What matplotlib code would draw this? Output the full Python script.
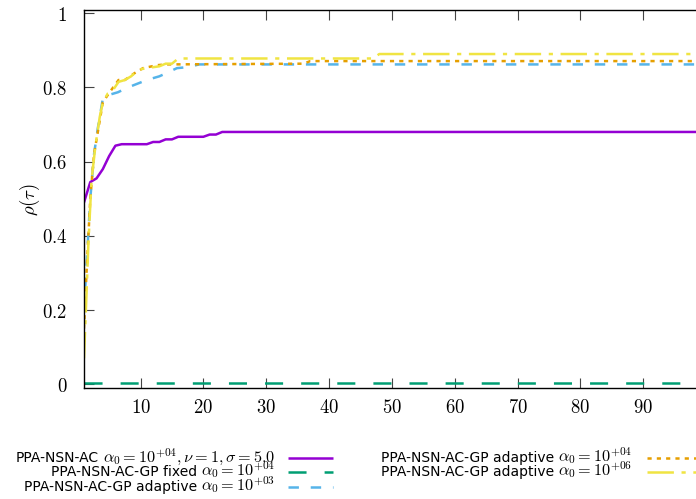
import matplotlib
matplotlib.use("Agg")
import matplotlib.pyplot as plt
from matplotlib.lines import Line2D

plt.rcParams['mathtext.fontset'] = 'cm'
plt.rcParams['font.family'] = 'DejaVu Sans'
plt.rcParams['lines.scale_dashes'] = False

# performance profile data (tau, rho)
tau_ac = [1, 2, 3, 4, 5, 6, 7, 11, 12, 13, 14, 15, 16, 20, 21, 22, 23, 100]
rho_ac = [0.49, 0.545, 0.555, 0.58, 0.615, 0.643, 0.647, 0.647, 0.653, 0.653,
          0.66, 0.66, 0.667, 0.667, 0.673, 0.673, 0.68, 0.68]

tau_fixed = [1, 100]
rho_fixed = [0.003, 0.003]

tau_a3 = [1, 1.4, 2, 2.6, 3.2, 4, 5, 6.4, 8, 11, 13, 14.3, 15.8, 17.7, 19.3, 100]
rho_a3 = [0.2, 0.32, 0.5, 0.62, 0.69, 0.77, 0.78, 0.787, 0.8, 0.82, 0.83,
          0.84, 0.852, 0.855, 0.862, 0.862]

tau_a4 = [1, 1.4, 2, 2.6, 3.5, 4, 5, 6.5, 7.5, 9, 10.4, 12.7, 14, 36, 37, 100]
rho_a4 = [0.15, 0.3, 0.5, 0.62, 0.71, 0.76, 0.785, 0.82, 0.82, 0.838, 0.852,
          0.86, 0.862, 0.864, 0.871, 0.871]

tau_a6 = [1, 1.3, 1.7, 2.2, 2.8, 3.5, 4, 4.8, 5.5, 6.5, 7.5, 8.5, 9.7, 11,
          13, 14, 15, 16, 47, 48, 100]
rho_a6 = [0.07, 0.2, 0.38, 0.55, 0.64, 0.72, 0.76, 0.784, 0.79, 0.815, 0.82,
          0.83, 0.848, 0.852, 0.857, 0.864, 0.864, 0.878, 0.878, 0.89, 0.89]

names = ['PPA-NSN-AC', 'PPA-NSN-AC-GP fixed', 'PPA-NSN-AC-GP adaptive',
         'PPA-NSN-AC-GP adaptive', 'PPA-NSN-AC-GP adaptive']
params = [r'$\alpha_0 = 10^{+04}, \nu = 1, \sigma = 5.0$',
          r'$\alpha_0 = 10^{+04}$',
          r'$\alpha_0 = 10^{+03}$',
          r'$\alpha_0 = 10^{+04}$',
          r'$\alpha_0 = 10^{+06}$']
colors = ['#9400d3', '#009e73', '#56b4e9', '#e69f00', '#f0e442']
dashes = [None, (13, 13), (7.5, 8.5), (3, 3.7), (19, 5.5, 3, 5.5)]

fig = plt.figure(figsize=(6.96, 4.99), dpi=100)
W, H = 696, 499
ax = fig.add_axes([84 / W, 1 - 388 / H, 622 / W, 378.5 / H])

series = [(tau_ac, rho_ac), (tau_fixed, rho_fixed), (tau_a3, rho_a3),
          (tau_a4, rho_a4), (tau_a6, rho_a6)]
lw = 1.8
for (x, y), c, d in zip(series, colors, dashes):
    ln, = ax.plot(x, y, color=c, lw=lw, solid_capstyle='butt',
                  dash_capstyle='butt')
    if d is not None:
        ln.set_dashes(d)

ax.set_xlim(1, 100)
ax.set_ylim(-0.01, 1.01)
ax.set_xticks(range(10, 100, 10))
ax.set_xticklabels(['$%d$' % v for v in range(10, 100, 10)])
ax.set_yticks([0, 0.2, 0.4, 0.6, 0.8, 1])
ax.set_yticklabels(['$0$', '$0.2$', '$0.4$', '$0.6$', '$0.8$', '$1$'])
ax.tick_params(direction='in', length=7.2, width=0.8, color='#444444',
               top=True, right=True, labelsize=13.5)
ax.tick_params(axis='x', pad=7)
ax.tick_params(axis='y', pad=12)
for s in ax.spines.values():
    s.set_linewidth(1.0)

fig.text(30 / W, 1 - 200 / H, r'$\rho(\tau)$', rotation=90, ha='center',
         va='center', fontsize=13.5)

# legend, gnuplot style: right-aligned text, sample to the right
rows = [(275, 288, 333, 458), (275, 288, 333, 472), (275, 288, 333, 487),
        (632, 647, 700, 458), (632, 647, 700, 472)]
fig.canvas.draw()
renderer = fig.canvas.get_renderer()
for nm, pm, c, d, (tx, x0, x1, yy) in zip(names, params, colors, dashes, rows):
    base = 1 - (yy + 4) / H
    tm = fig.text(tx / W, base, pm, ha='right', va='baseline', fontsize=11.7)
    bb = tm.get_window_extent(renderer)
    fig.text((bb.x0 - 4) / W, base, nm, ha='right', va='baseline', fontsize=10)
    ln = Line2D([x0 / W, x1 / W], [1 - yy / H, 1 - yy / H], color=c, lw=lw,
                transform=fig.transFigure, solid_capstyle='butt',
                dash_capstyle='butt')
    if d is not None:
        ln.set_dashes(d)
    fig.add_artist(ln)

fig.savefig('out.png', dpi=100)
